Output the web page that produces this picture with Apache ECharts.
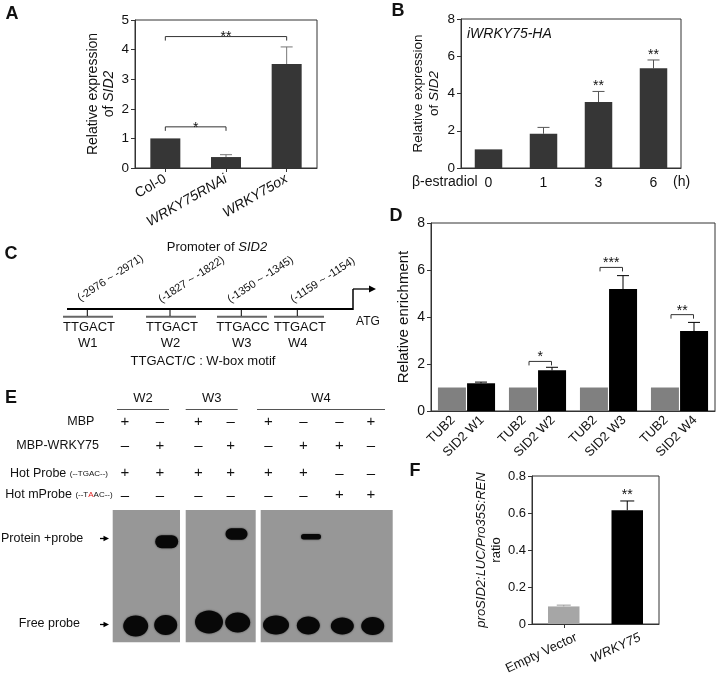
<!DOCTYPE html>
<html><head><meta charset="utf-8">
<script src="https://cdn.jsdelivr.net/npm/echarts@6/dist/echarts.min.js"></script>
<style>html,body{margin:0;padding:0;background:#fff}#c{width:717px;height:676px}</style>
</head><body><div id="c"></div>
<script>
// ---------- DATA ----------
// Panel A
const aCategories = ['Col-0', 'WRKY75RNAi', 'WRKY75ox'];
const aValues = [1.0, 0.37, 3.51];
const aErrors = [0, 0.08, 0.58];
const aBrackets = [[0, 2, 4.44, '**'], [0, 1, 1.39, '*']];
// Panel B
const bCategories = ['0', '1', '3', '6'];
const bValues = [1.0, 1.84, 3.54, 5.35];
const bErrors = [0, 0.34, 0.57, 0.45];
const bStars = ['', '', '**', '**'];
// Panel C
const cSeqs = ['TTGACT', 'TTGACT', 'TTGACC', 'TTGACT'];
const cNames = ['W1', 'W2', 'W3', 'W4'];
const cRanges = ['(-2976 ~ -2971)', '(-1827 ~ -1822)', '(-1350 ~ -1345)', '(-1159 ~ -1154)'];
// Panel D
const dSites = ['W1', 'W2', 'W3', 'W4'];
const dTub2 = [1, 1, 1, 1];
const dSid2 = [1.18, 1.73, 5.19, 3.4];
const dSid2Err = [0.05, 0.13, 0.57, 0.37];
const dBrackets = [[1, 2.11, '*'], [2, 6.11, '***'], [3, 4.1, '**']];
// Panel E
const eGroups = ['W2', 'W3', 'W4'];
const eRowLabels = ['MBP', 'MBP-WRKY75', 'Hot Probe', 'Hot mProbe'];
const eSigns = [
  ['+', '–', '+', '–', '+', '–', '–', '+'],
  ['–', '+', '–', '+', '–', '+', '+', '–'],
  ['+', '+', '+', '+', '+', '+', '–', '–'],
  ['–', '–', '–', '–', '–', '–', '+', '+']
];
const eShifted = [0, 1, 0, 1, 0, 0.5, 0, 0];
const eFree = [1, 1, 1, 1, 1, 1, 1, 1];
// Panel F
const fCategories = ['Empty Vector', 'WRKY75'];
const fValues = [0.095, 0.615];
const fErrors = [0.007, 0.05];
const fStars = ['', '**'];

// ---------- STYLE ----------
const FONT = '"Liberation Sans", Arial, Helvetica, sans-serif';
const TXT = '#111';
const AX = '#333';

const chart = echarts.init(document.getElementById('c'), null, {renderer: 'canvas'});

function gridDef(l, t, w, h) {
  return {left: l, top: t, width: w, height: h, show: true, borderColor: AX, borderWidth: 1,
    backgroundColor: 'transparent', outerBoundsMode: 'none', containLabel: false};
}
function yAx(gi, max, interval, name, gap, fs, lfs, fmt) {
  return {type: 'value', gridIndex: gi, min: 0, max: max, interval: interval,
    name: name, nameLocation: 'middle', nameGap: gap, nameRotate: 90,
    nameTextStyle: {fontSize: fs, color: TXT, fontFamily: FONT, lineHeight: fs + 2, align: 'center',
      rich: {i: {fontStyle: 'italic', fontSize: fs, fontFamily: FONT, color: TXT, lineHeight: fs + 2}}},
    axisLine: {show: true, lineStyle: {color: AX, width: 1}},
    axisTick: {show: true, length: 4, lineStyle: {color: AX}},
    axisLabel: {fontSize: lfs, color: TXT, fontFamily: FONT, margin: 6, formatter: fmt},
    splitLine: {show: false}};
}
function errRender(xOff, colorFn, capHalf) {
  return function (params, api) {
    const i = params.dataIndex;
    const x = api.value(0), v = api.value(1), u = api.value(2);
    if (!(u > v)) return null;
    const p1 = api.coord([x, v]), p2 = api.coord([x, u]);
    const cx = p1[0] + xOff;
    const c = colorFn(i);
    return {type: 'group', children: [
      {type: 'line', shape: {x1: cx, y1: p1[1], x2: cx, y2: p2[1]}, style: {stroke: c, lineWidth: 1}},
      {type: 'line', shape: {x1: cx - capHalf, y1: p2[1], x2: cx + capHalf, y2: p2[1]}, style: {stroke: c, lineWidth: 1}}
    ]};
  };
}
function starText(x, y, t) {
  return {type: 'text', x: x, y: y, style: {text: t, fill: TXT, fontSize: 14, fontFamily: FONT, align: 'center', verticalAlign: 'middle'}};
}
function catLabelRender(dx, dy, deg, fs, va, textFn) {
  return function (params, api) {
    const p = api.coord([api.value(0), 0]);
    return {type: 'text', x: p[0] + dx, y: p[1] + dy, rotation: deg * Math.PI / 180,
      style: {text: textFn(params.dataIndex), fill: TXT, fontSize: fs, fontFamily: FONT, align: 'right', verticalAlign: va,
        rich: {i: {fontStyle: 'italic', fontSize: fs, fontFamily: FONT, fill: TXT}}}};
  };
}

const series = [];
// Panel A
series.push({type: 'bar', xAxisIndex: 0, yAxisIndex: 0, data: aValues, barWidth: 30, silent: true,
  itemStyle: {color: '#363636'}});
series.push({type: 'custom', xAxisIndex: 0, yAxisIndex: 0, clip: false, silent: true,
  data: aValues.map((v, i) => [i, v, v + aErrors[i]]), encode: {x: 0, y: 1},
  renderItem: errRender(0, () => '#777', 6)});
series.push({type: 'custom', xAxisIndex: 0, yAxisIndex: 0, clip: false, silent: true,
  data: aBrackets.map(b => [b[0], b[2]]), encode: {x: 0, y: 1},
  renderItem: function (params, api) {
    const b = aBrackets[params.dataIndex];
    const p1 = api.coord([b[0], b[2]]), p2 = api.coord([b[1], b[2]]);
    const y = p1[1];
    return {type: 'group', children: [
      {type: 'polyline', shape: {points: [[p1[0], y + 4], [p1[0], y], [p2[0], y], [p2[0], y + 4]]}, style: {stroke: AX, lineWidth: 1, fill: null}},
      starText((p1[0] + p2[0]) / 2, y + 1, b[3])
    ]};
  }});
// Panel B
series.push({type: 'bar', xAxisIndex: 1, yAxisIndex: 1, data: bValues, barWidth: 27.5, silent: true,
  itemStyle: {color: '#363636'}});
series.push({type: 'custom', xAxisIndex: 1, yAxisIndex: 1, clip: false, silent: true,
  data: bValues.map((v, i) => [i, v, v + bErrors[i]]), encode: {x: 0, y: 1},
  renderItem: errRender(0, () => '#555', 6)});
series.push({type: 'custom', xAxisIndex: 1, yAxisIndex: 1, clip: false, silent: true,
  data: bValues.map((v, i) => [i, v + bErrors[i]]), encode: {x: 0, y: 1},
  renderItem: function (params, api) {
    const t = bStars[params.dataIndex];
    if (!t) return null;
    const p = api.coord([api.value(0), api.value(1)]);
    return starText(p[0], p[1] - 5, t);
  }});
// Panel D
series.push({type: 'bar', xAxisIndex: 2, yAxisIndex: 2, data: dTub2, barWidth: 28, barGap: '4%', silent: true,
  itemStyle: {color: '#808080'}});
series.push({type: 'bar', xAxisIndex: 2, yAxisIndex: 2, data: dSid2, barWidth: 28, barGap: '4%', silent: true,
  itemStyle: {color: '#000'}});
series.push({type: 'custom', xAxisIndex: 2, yAxisIndex: 2, clip: false, silent: true,
  data: dSid2.map((v, i) => [i, v, v + dSid2Err[i]]), encode: {x: 0, y: 1},
  renderItem: errRender(14.5, () => '#000', 6)});
series.push({type: 'custom', xAxisIndex: 2, yAxisIndex: 2, clip: false, silent: true,
  data: dBrackets.map(b => [b[0], b[1]]), encode: {x: 0, y: 1},
  renderItem: function (params, api) {
    const b = dBrackets[params.dataIndex];
    const p = api.coord([b[0], b[1]]);
    const x1 = p[0] - 8.5, x2 = p[0] + 14, y = p[1];
    return {type: 'group', children: [
      {type: 'polyline', shape: {points: [[x1, y + 4], [x1, y], [x2, y], [x2, y + 4]]}, style: {stroke: AX, lineWidth: 1, fill: null}},
      starText((x1 + x2) / 2, y - 4, b[2])
    ]};
  }});
series.push({type: 'custom', xAxisIndex: 2, yAxisIndex: 2, clip: false, silent: true,
  data: dSites.map((s, i) => [i, 0]), encode: {x: 0, y: 1},
  renderItem: catLabelRender(-14.5 + 1, 7, 45, 13, 'middle', () => 'TUB2')});
series.push({type: 'custom', xAxisIndex: 2, yAxisIndex: 2, clip: false, silent: true,
  data: dSites.map((s, i) => [i, 0]), encode: {x: 0, y: 1},
  renderItem: catLabelRender(14.5 + 1, 7, 45, 13, 'middle', i => 'SID2 ' + dSites[i])});
// Panel F
const fColors = ['#a6a6a6', '#000'];
const fErrColors = ['#999', '#000'];
series.push({type: 'bar', xAxisIndex: 3, yAxisIndex: 3, barWidth: 31.5, silent: true,
  data: fValues.map((v, i) => ({value: v, itemStyle: {color: fColors[i]}}))});
series.push({type: 'custom', xAxisIndex: 3, yAxisIndex: 3, clip: false, silent: true,
  data: fValues.map((v, i) => [i, v, v + fErrors[i]]), encode: {x: 0, y: 1},
  renderItem: errRender(0, i => fErrColors[i], 7)});
series.push({type: 'custom', xAxisIndex: 3, yAxisIndex: 3, clip: false, silent: true,
  data: fValues.map((v, i) => [i, v + fErrors[i]]), encode: {x: 0, y: 1},
  renderItem: function (params, api) {
    const t = fStars[params.dataIndex];
    if (!t) return null;
    const p = api.coord([api.value(0), api.value(1)]);
    return starText(p[0], p[1] - 6, t);
  }});
series.push({type: 'custom', xAxisIndex: 3, yAxisIndex: 3, clip: false, silent: true,
  data: fCategories.map((s, i) => [i, 0]), encode: {x: 0, y: 1},
  renderItem: catLabelRender(10, 7, 25, 13, 'top', i => fCategories[i] === 'WRKY75' ? '{i|' + fCategories[i] + '}' : fCategories[i])});

// ---------- GRAPHICS (labels, schematic C, EMSA E) ----------
const g = [];
function txt(x, y, text, o) {
  o = o || {};
  g.push({type: 'text', x: x, y: y, silent: true, rotation: o.rot || 0,
    style: Object.assign({text: text, fill: TXT, fontSize: o.fs || 13, fontFamily: FONT,
      fontWeight: o.fw || 'normal', fontStyle: o.fst || 'normal',
      align: o.align || 'center', verticalAlign: o.va || 'middle'}, o.style || {})});
}
function line(x1, y1, x2, y2, c, w) {
  g.push({type: 'line', silent: true, shape: {x1: x1, y1: y1, x2: x2, y2: y2}, style: {stroke: c || '#000', lineWidth: w || 1}});
}
function arrowRight(x1, x2, y, head) {
  line(x1, y, x2 - head, y, '#000', 1.3);
  g.push({type: 'polygon', silent: true, shape: {points: [[x2 - head - 1, y - head * 0.6], [x2, y], [x2 - head - 1, y + head * 0.6]]}, style: {fill: '#000'}});
}
// panel letters
[['A', 12, 14], ['B', 398, 11], ['C', 11, 254], ['D', 396, 216], ['E', 11, 398], ['F', 415, 471]]
  .forEach(l => txt(l[1], l[2], l[0], {fs: 18, fw: 'bold'}));
// Panel B extras
txt(467, 34, 'iWRKY75-HA', {fs: 14, fst: 'italic', align: 'left'});
txt(412, 182, 'β-estradiol', {fs: 14, align: 'left'});
txt(673, 182, '(h)', {fs: 14, align: 'left'});

// Panel C schematic
const cX = [88, 171, 242, 299];
const cTick = [87.3, 170, 241.3, 297.3];
const cRangeStart = [[81.5, 303.5], [162.5, 305], [231.5, 305], [294.5, 305]];
txt(217, 247, '{n|Promoter of }{i|SID2}', {style: {rich: {n: {fontSize: 13, fontFamily: FONT, fill: TXT}, i: {fontSize: 13, fontFamily: FONT, fill: TXT, fontStyle: 'italic'}}}});
line(67, 309, 353, 309, '#000', 2);
line(353, 310, 353, 289, '#000', 1.5);
arrowRight(353, 376, 289, 6);
txt(368, 322, 'ATG', {fs: 12});
cX.forEach((x, i) => {
  line(x - 25, 316.7, x + 25, 316.7, '#666', 2);
  line(cTick[i], 309, cTick[i], 316, '#000', 1);
  txt(x + 1, 327, cSeqs[i], {fs: 13});
  txt(cTick[i] + 0.5, 343, cNames[i], {fs: 13});
  txt(cRangeStart[i][0], cRangeStart[i][1], cRanges[i], {fs: 11, align: 'left', va: 'bottom', rot: 33 * Math.PI / 180});
});
txt(203, 361, 'TTGACT/C : W-box motif', {fs: 13});

// Panel E
const eLaneX = [125, 160, 198.3, 230.7, 268.3, 303.3, 339.3, 371];
const eRowY = [421.7, 445.7, 473.3, 495];
const eHeader = [[117, 169], [185.7, 237.7], [257, 385]];
eGroups.forEach((w, i) => {
  txt((eHeader[i][0] + eHeader[i][1]) / 2, 398, w, {fs: 13});
  line(eHeader[i][0], 409.5, eHeader[i][1], 409.5, '#555', 1);
});
const richE = {
  m: {fontSize: 12.5, fontFamily: FONT, fill: TXT},
  s: {fontSize: 8, fontFamily: FONT, fill: TXT},
  r: {fontSize: 8, fontFamily: FONT, fill: '#e02020'}
};
txt(94.3, eRowY[0], eRowLabels[0], {align: 'right', fs: 12.5});
txt(99, eRowY[1], eRowLabels[1], {align: 'right', fs: 12.5});
txt(108, eRowY[2], '{m|' + eRowLabels[2] + ' }{s|(--TGAC--)}', {align: 'right', style: {rich: richE}});
txt(112.7, eRowY[3], '{m|' + eRowLabels[3] + ' }{s|(--T}{r|A}{s|AC--)}', {align: 'right', style: {rich: richE}});
eSigns.forEach((row, r) => row.forEach((s, c) => {
  txt(eLaneX[c], eRowY[r] + (s === '+' ? 0 : 0.5), s, {fs: 15});
}));
// gels
const gelRects = [[112.7, 180], [185.7, 255.7], [260.7, 392.7]];
gelRects.forEach(rc => g.push({type: 'rect', silent: true, shape: {x: rc[0], y: 510, width: rc[1] - rc[0], height: 132.3},
  style: {fill: '#979797'}}));
const eBlobX = [135.7, 165.7, 209, 237.7, 276, 308.3, 342.3, 372.7];
const eFreeSize = [[25, 21], [23, 20], [28, 23], [25, 20], [26, 19], [23, 18], [23, 17], [23, 18]];
const eFreeY = [626, 625, 622, 622.5, 625, 625.5, 626, 626];
eBlobX.forEach((x, i) => {
  if (eFree[i]) g.push({type: 'ellipse', silent: true, shape: {cx: x, cy: eFreeY[i], rx: eFreeSize[i][0] / 2, ry: eFreeSize[i][1] / 2},
    style: {fill: '#080808', shadowBlur: 2, shadowColor: 'rgba(0,0,0,0.6)'}});
});
const eShiftGeo = {1: [166.7, 541.7, 23, 13], 3: [236.5, 534, 22, 11.5], 5: [311, 536.7, 20, 5.5]};
eBlobX.forEach((x, i) => {
  if (eShifted[i] && eShiftGeo[i]) {
    const s = eShiftGeo[i];
    g.push({type: 'rect', silent: true, shape: {x: s[0] - s[2] / 2, y: s[1] - s[3] / 2, width: s[2], height: s[3], r: s[3] / 2},
      style: {fill: '#080808', shadowBlur: 2, shadowColor: 'rgba(0,0,0,0.6)'}});
  }
});
txt(83.3, 538.3, 'Protein +probe', {align: 'right', fs: 12.5});
arrowRight(100, 109, 538.5, 4.5);
txt(80, 623.3, 'Free probe', {align: 'right', fs: 12.5});
arrowRight(100, 109, 624.5, 4.5);

// ---------- OPTION ----------
const option = {
  animation: false,
  textStyle: {fontFamily: FONT},
  grid: [gridDef(135, 20, 182, 148), gridDef(461, 19, 220, 149), gridDef(431, 223, 284, 188), gridDef(532, 476, 127, 148)],
  xAxis: [
    {type: 'category', gridIndex: 0, data: aCategories,
      axisLine: {lineStyle: {color: AX}}, axisTick: {show: true, alignWithLabel: true, length: 4, lineStyle: {color: AX}},
      axisLabel: {interval: 0, rotate: 30, fontSize: 14, color: TXT, fontFamily: FONT, margin: 10,
        formatter: v => v === 'Col-0' ? v : '{i|' + v + '}',
        rich: {i: {fontStyle: 'italic', fontSize: 14, fontFamily: FONT, color: TXT}}}},
    {type: 'category', gridIndex: 1, data: bCategories,
      axisLine: {lineStyle: {color: AX}}, axisTick: {show: false},
      axisLabel: {interval: 0, fontSize: 14, color: TXT, fontFamily: FONT, margin: 8}},
    {type: 'category', gridIndex: 2, data: dSites,
      axisLine: {lineStyle: {color: AX}}, axisTick: {show: false}, axisLabel: {show: false}},
    {type: 'category', gridIndex: 3, data: fCategories,
      axisLine: {lineStyle: {color: AX}}, axisTick: {show: true, alignWithLabel: true, length: 4, lineStyle: {color: AX}},
      axisLabel: {show: false}}
  ],
  yAxis: [
    yAx(0, 5, 1, 'Relative expression\nof {i|SID2}', 18, 14, 13.5, v => String(v)),
    yAx(1, 8, 2, 'Relative expression\nof {i|SID2}', 19, 13.5, 13.5, v => String(v)),
    yAx(2, 8, 2, 'Relative enrichment', 19, 15, 14, v => String(v)),
    yAx(3, 0.8, 0.2, '{i|proSID2:LUC/Pro35S:REN}\nratio', 27, 13, 13, v => (Math.abs(v) < 1e-9 ? '0' : v.toFixed(1)))
  ],
  series: series,
  graphic: {elements: g}
};
chart.setOption(option);
</script>
</body></html>
